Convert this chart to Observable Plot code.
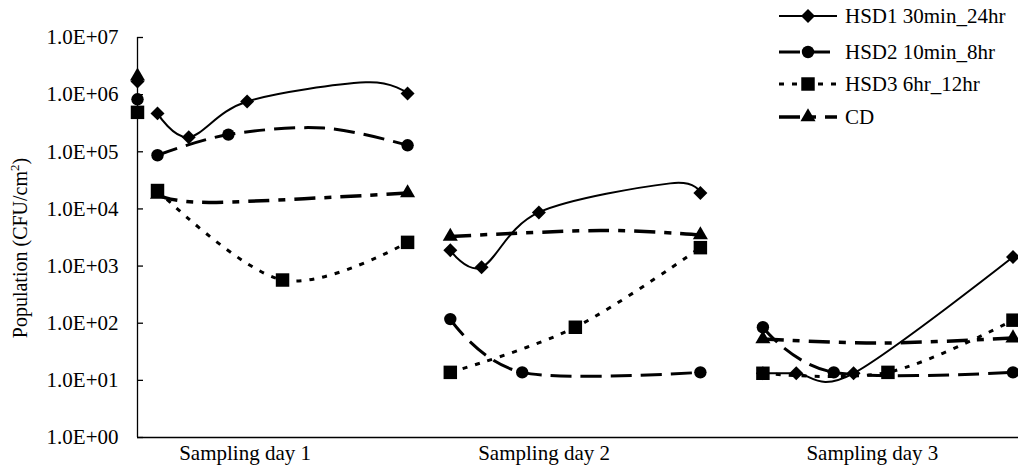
<!DOCTYPE html>
<html><head><meta charset="utf-8">
<script src="https://cdn.jsdelivr.net/npm/d3@7"></script>
<script src="https://cdn.jsdelivr.net/npm/@observablehq/plot@0.6"></script>
<style>
html,body{margin:0;padding:0;background:#fff;}
#chart{position:relative;width:1018px;height:469px;overflow:hidden;}
</style></head><body><div id="chart"></div>
<script>
// ---- data (hours from start of sampling day 1; CFU/cm2) ----
const seriesNames = ["HSD1 30min_24hr", "HSD2 10min_8hr", "HSD3 6hr_12hr", "CD"];
const dayLabels = ["Sampling day 1", "Sampling day 2", "Sampling day 3"];
const dayStartHours = [0, 28.1, 58.1];
const dayLabelHours = [8.4, 37.1, 68.6];
const initialHour = -1.92;
const initialValues = [1.7e6, 8.3e5, 4.9e5, 2.1e6];

// per day: sampling hours, values, and whether a marker is drawn (1) or the point only shapes the line (0)
const hsd1Hours = [[0, 3, 8.6, 20, 24], [0, 3, 8.5, 21.1, 24], [0, 3.2, 8.7, 24]];
const hsd1Values = [[4.7e5, 1.8e5, 7.6e5, 1.64e6, 1.05e6], [1.9e3, 950, 8.7e3, 2.8e4, 1.9e4], [13.3, 13.3, 13.3, 1.44e3]];
const hsd1Marked = [[1, 1, 1, 0, 1], [1, 1, 1, 0, 1], [1, 1, 1, 1]];
const hsd2Hours = [[0, 6.8, 16, 24], [0, 6.9, 24], [0, 6.8, 24]];
const hsd2Values = [[8.7e4, 2.0e5, 2.6e5, 1.3e5], [118, 13.8, 13.8], [85, 13.8, 13.8]];
const hsd2Marked = [[1, 1, 0, 1], [1, 1, 1], [1, 1, 1]];
const hsd3Hours = [[0, 12, 24], [0, 12, 24], [0, 12, 24]];
const hsd3Values = [[2.1e4, 570, 2.6e3], [13.8, 85, 2.1e3], [13.3, 13.8, 113]];
const hsd3Marked = [[1, 1, 1], [1, 1, 1], [1, 1, 1]];
const cdHours = [[0, 5.1, 24], [0, 14.4, 24], [0, 11.3, 24]];
const cdValues = [[1.8e4, 1.3e4, 1.9e4], [3.3e3, 4.2e3, 3.5e3], [53, 45, 55]];
const cdMarked = [[1, 0, 1], [1, 0, 1], [1, 0, 1]];

const yTicks = [1, 10, 100, 1e3, 1e4, 1e5, 1e6, 1e7];
const xDomain = [-1.92, 82.63];

// ---- styles ----
const styles = [
  {symbol: "diamond2", r: 6.3, width: 2, dash: null},
  {symbol: "circle", r: 6.2, width: 3, dash: "21,9"},
  {symbol: "square", r: 7.6, width: 3, dash: "5,8"},
  {symbol: "triangle", r: 5.6, width: 3.5, dash: "21,9,7,9"}
];

function build(si, hours, values, marked) {
  const rows = [];
  hours.forEach((hs, d) => hs.forEach((h, k) => rows.push({
    series: seriesNames[si], day: d, t: dayStartHours[d] + h, v: values[d][k],
    marked: !!marked[d][k]
  })));
  return rows;
}
const data = [
  build(0, hsd1Hours, hsd1Values, hsd1Marked),
  build(1, hsd2Hours, hsd2Values, hsd2Marked),
  build(2, hsd3Hours, hsd3Values, hsd3Marked),
  build(3, cdHours, cdValues, cdMarked)
];
const initial = initialValues.map((v, i) => ({series: seriesNames[i], t: initialHour, v, i}));

const labelMap = new Map(dayLabelHours.map((h, i) => [h, dayLabels[i]]));
const fmt = d => "1.0E+" + String(Math.round(Math.log10(d))).padStart(2, "0");

const lineMarks = data.map((rows, i) => Plot.line(rows, {
  x: "t", y: "v", z: "day", curve: "cardinal", stroke: "black",
  strokeWidth: styles[i].width, strokeDasharray: styles[i].dash, strokeLinecap: "butt"
}));
const dotOrder = [3, 0, 1, 2];
const dotMarks = dotOrder.map(i => Plot.dot(data[i].filter(d => d.marked), {
  x: "t", y: "v", symbol: () => styles[i].symbol, r: styles[i].r, fill: "black", stroke: "none"
}));
const initMarks = dotOrder.map(i => Plot.dot(initial.filter(d => d.i === i), {
  x: "t", y: "v", symbol: () => styles[i].symbol, r: styles[i].r, fill: "black", stroke: "none"
}));

const svg = Plot.plot({
  width: 1018, height: 469,
  marginLeft: 137, marginRight: 0, marginTop: 37, marginBottom: 32,
  style: {fontFamily: "Liberation Serif", fontSize: "21px", color: "black", background: "white"},
  x: {type: "linear", domain: xDomain, label: null},
  y: {type: "log", domain: [1, 1e7], label: null},
  symbol: {type: "identity"},
  marks: [
    Plot.ruleX([xDomain[0]], {stroke: "black", strokeWidth: 1.3}),
    Plot.ruleY([1], {stroke: "black", strokeWidth: 1.3}),
    Plot.tickY(yTicks, {y: d => d, insetRight: 1018 - 137 - 6, stroke: "black", strokeWidth: 1.3}),
    Plot.axisY(yTicks, {tickSize: 0, tickPadding: 19, tickFormat: fmt, label: null}),
    Plot.axisX(dayLabelHours, {tickSize: 0, tickPadding: 8, tickFormat: d => labelMap.get(d), label: null}),
    ...lineMarks,
    ...dotMarks,
    ...initMarks
  ]
});
document.getElementById("chart").appendChild(svg);

// ---- y-axis title ----
const s = d3.select(svg);
const yt = s.append("text")
  .attr("transform", "translate(27,248) rotate(-90)")
  .attr("text-anchor", "middle")
  .attr("font-family", "Liberation Serif").attr("font-size", 20).attr("fill", "black");
yt.append("tspan").text("Population (CFU/cm");
yt.append("tspan").attr("font-size", 13).attr("dy", -8).text("2");
yt.append("tspan").attr("dy", 8).text(")");

// ---- legend ----
const legendY = [16, 52, 84, 117];
const symbolTypes = {diamond2: d3.symbolDiamond2, circle: d3.symbolCircle, square: d3.symbolSquare, triangle: d3.symbolTriangle};
const lg = s.append("g").attr("text-anchor", "start");
seriesNames.forEach((name, i) => {
  const st = styles[i], y = legendY[i];
  const ln = lg.append("line").attr("x1", 779).attr("x2", 837).attr("y1", y).attr("y2", y)
    .attr("stroke", "black").attr("stroke-width", st.width);
  if (st.dash) ln.attr("stroke-dasharray", st.dash);
  lg.append("path").attr("transform", `translate(808,${y})`)
    .attr("d", d3.symbol(symbolTypes[st.symbol], Math.PI * st.r * st.r)()).attr("fill", "black");
  lg.append("text").attr("x", 845).attr("y", y).attr("dy", "0.35em").attr("text-anchor", "start")
    .attr("font-family", "Liberation Serif").attr("font-size", 21).attr("fill", "black").text(name);
});
</script></body></html>
